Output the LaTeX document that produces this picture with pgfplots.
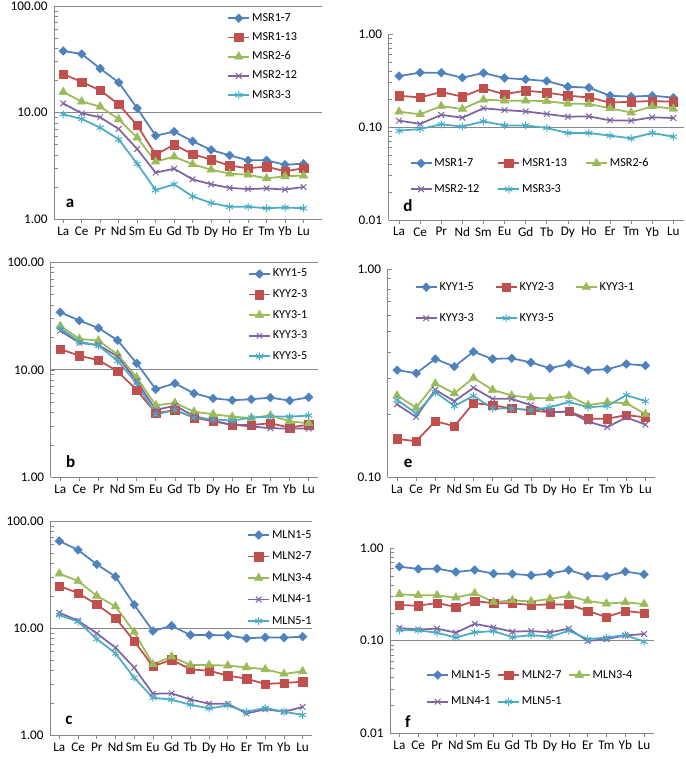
\documentclass[border=0pt]{standalone}
\usepackage{pgfplots}
\pgfplotsset{compat=1.18}
\usepackage{pgfplotstable}
\usepackage{fontspec}
\setmainfont{Carlito}
\definecolor{cA}{HTML}{4F81BD}
\definecolor{cB}{HTML}{C0504D}
\definecolor{cC}{HTML}{9BBB59}
\definecolor{cD}{HTML}{8064A2}
\definecolor{cE}{HTML}{4BACC6}
\definecolor{axgray}{HTML}{868686}

\pgfplotstableread{
x s1 s2 s3 s4 s5
0 37.8 23.0 15.6 12.2 9.65
1 35.5 19.4 12.7 9.86 8.72
2 25.9 16.2 11.4 9.04 7.23
3 19.2 11.97 8.66 7.03 5.62
4 11.0 7.61 5.83 4.56 3.32
5 6.09 4.04 3.47 2.74 1.88
6 6.63 5.01 3.87 2.98 2.13
7 5.39 4.07 3.28 2.37 1.64
8 4.47 3.63 2.92 2.13 1.42
9 3.98 3.19 2.68 1.97 1.31
10 3.57 3.01 2.62 1.92 1.31
11 3.57 3.12 2.42 1.95 1.27
12 3.25 2.82 2.53 1.90 1.29
13 3.32 3.01 2.57 2.01 1.27
}\tabA
\pgfplotstableread{
x s1 s2 s3 s4 s5
0 0.353 0.217 0.146 0.117 0.0913
1 0.384 0.208 0.137 0.108 0.0952
2 0.384 0.238 0.168 0.135 0.107
3 0.339 0.212 0.156 0.126 0.101
4 0.381 0.260 0.197 0.159 0.115
5 0.336 0.225 0.192 0.152 0.104
6 0.325 0.246 0.192 0.147 0.104
7 0.312 0.234 0.190 0.138 0.0976
8 0.271 0.217 0.178 0.129 0.0862
9 0.265 0.208 0.177 0.130 0.0862
10 0.217 0.183 0.159 0.118 0.0807
11 0.212 0.187 0.143 0.117 0.0756
12 0.217 0.190 0.167 0.127 0.0862
13 0.207 0.187 0.157 0.125 0.0787
}\tabD
\pgfplotstableread{
x s1 s2 s3 s4 s5
0 34.3 15.6 25.6 23.1 24.3
1 28.7 13.5 19.4 17.8 18.3
2 24.5 12.3 18.7 17.0 16.8
3 18.8 9.68 13.9 13.3 12.1
4 11.5 6.49 8.51 7.87 7.49
5 6.59 3.94 4.67 4.23 3.83
6 7.49 4.23 4.92 4.64 4.23
7 6.04 3.59 4.08 3.72 3.59
8 5.43 3.32 3.86 3.37 3.46
9 5.21 3.07 3.67 3.07 3.37
10 5.32 3.07 3.56 2.98 3.59
11 5.51 3.18 3.77 2.86 3.67
12 5.17 2.90 3.32 2.84 3.67
13 5.55 3.09 3.18 2.84 3.75
}\tabB
\pgfplotstableread{
x s1 s2 s3 s4 s5
0 0.327 0.153 0.247 0.224 0.235
1 0.316 0.149 0.216 0.195 0.203
2 0.370 0.186 0.282 0.263 0.256
3 0.340 0.176 0.253 0.232 0.220
4 0.401 0.227 0.300 0.269 0.246
5 0.370 0.222 0.263 0.238 0.214
6 0.373 0.214 0.247 0.238 0.214
7 0.356 0.210 0.241 0.222 0.210
8 0.334 0.205 0.239 0.205 0.217
9 0.350 0.207 0.246 0.207 0.230
10 0.327 0.191 0.222 0.185 0.217
11 0.330 0.191 0.229 0.174 0.220
12 0.350 0.199 0.227 0.194 0.248
13 0.344 0.194 0.201 0.179 0.232
}\tabE
\pgfplotstableread{
x s1 s2 s3 s4 s5
0 65.0 24.7 32.2 13.9 13.2
1 53.6 21.2 27.5 11.7 11.5
2 39.4 16.6 20.0 8.92 7.89
3 30.2 12.4 15.9 6.55 5.80
4 16.5 7.56 9.18 4.26 3.43
5 9.37 4.38 4.58 2.43 2.23
6 10.5 5.06 5.40 2.45 2.14
7 8.60 4.11 4.51 2.15 1.92
8 8.60 3.99 4.51 1.96 1.77
9 8.54 3.59 4.45 1.96 1.89
10 8.00 3.36 4.29 1.59 1.65
11 8.18 3.00 4.11 1.74 1.79
12 8.12 3.06 3.72 1.65 1.65
13 8.30 3.15 3.94 1.83 1.54
}\tabC
\pgfplotstableread{
x s1 s2 s3 s4 s5
0 0.633 0.243 0.318 0.137 0.130
1 0.597 0.239 0.310 0.132 0.129
2 0.602 0.256 0.310 0.135 0.122
3 0.554 0.231 0.292 0.122 0.108
4 0.582 0.269 0.326 0.152 0.123
5 0.532 0.254 0.262 0.139 0.127
6 0.528 0.254 0.273 0.125 0.109
7 0.510 0.243 0.266 0.127 0.115
8 0.532 0.247 0.283 0.123 0.110
9 0.582 0.247 0.305 0.135 0.128
10 0.502 0.210 0.269 0.099 0.104
11 0.498 0.180 0.252 0.104 0.108
12 0.559 0.210 0.260 0.114 0.115
13 0.523 0.199 0.249 0.118 0.0975
}\tabF

\pgfplotsset{
  scale only axis,
  xmin=-0.5, xmax=13.5,
  xtick={0,...,13},
  xticklabels={La,Ce,Pr,Nd,Sm,Eu,Gd,Tb,Dy,Ho,Er,Tm,Yb,Lu},
  axis lines=left,
  axis line style={-, draw=axgray, line width=0.8pt},
  xtick align=outside, ytick align=inside,
  major tick length=4pt, minor tick length=3.5pt,
  tick style={draw=axgray, line width=0.6pt},
  ticklabel style={font=\fontsize{13.2}{15}\selectfont, text=black},
  yticklabel style={xshift=-3pt},
  major grid style={draw=axgray, line width=0.8pt},
  legend style={draw=none, fill=none, font=\fontsize{12.2}{14}\selectfont,
    inner sep=0pt, outer sep=0pt, anchor=north west,
    nodes={inner sep=2pt, text height=9pt, text depth=3pt}},
  legend cell align=left,
  legend image code/.code={\draw[mark repeat=2,mark phase=2,#1] plot coordinates {(0pt,0pt) (10.5pt,0pt) (21pt,0pt)};},
  sA/.style={color=cA, line width=1.75pt, mark=square*, mark size=3.1pt, mark options={rotate=45, solid, line width=0.4pt}},
  sB/.style={color=cB, line width=1.75pt, mark=square*, mark size=4.2pt, mark options={solid, line width=0.4pt}},
  sC/.style={color=cC, line width=1.75pt, mark=triangle*, mark size=5pt, mark options={solid, line width=0.4pt}},
  sD/.style={color=cD, line width=1.75pt, mark=x, mark size=4pt, mark options={solid, line width=1pt}},
  sE/.style={color=cE, line width=1.75pt, mark=asterisk, mark size=4pt, mark options={solid, line width=1pt}},
}
\tikzset{plab/.style={font=\fontsize{17}{17}\selectfont\bfseries, anchor=center}}

\begin{document}
\begin{tikzpicture}
\useasboundingbox (0pt,0pt) rectangle (685pt,-759pt);

% panel a
\begin{semilogyaxis}[at={(54pt,-219.3pt)}, anchor=south west, width=268pt, height=213.3pt, xmax=14,
  ymin=1, ymax=100, ytick={1,10,100}, yticklabels={1.00,10.00,100.00}, ymajorgrids,
  minor ytick={2,3,4,5,6,7,8,9,20,30,40,50,60,70,80,90},
  legend style={at={(0.647,0.980)}, row sep=3.2pt}]
\addplot[sA] table[x=x,y=s1]{\tabA};
\addplot[sB] table[x=x,y=s2]{\tabA};
\addplot[sC] table[x=x,y=s3]{\tabA};
\addplot[sD] table[x=x,y=s4]{\tabA};
\addplot[sE] table[x=x,y=s5]{\tabA};
\legend{MSR1-7,MSR1-13,MSR2-6,MSR2-12,MSR3-3}
\node[plab] at (rel axis cs:0.06,0.073) {a};
\end{semilogyaxis}

% panel d
\begin{semilogyaxis}[at={(388.5pt,-220pt)}, anchor=south west, width=295.4pt, height=186pt,
  ymin=0.01, ymax=1, ytick={0.01,0.1,1}, yticklabels={0.01,0.10,1.00},
  minor ytick={0.02,0.03,0.04,0.05,0.06,0.07,0.08,0.09,0.2,0.3,0.4,0.5,0.6,0.7,0.8,0.9},
  extra y ticks={0.1}, extra y tick labels={}, extra y tick style={grid=major, major tick length=0pt},
  legend columns=3,
  legend style={at={(0.0718,0.348)}, row sep=10pt, /tikz/every even column/.append style={column sep=16pt}}]
\addplot[sA] table[x=x,y=s1]{\tabD};
\addplot[sB] table[x=x,y=s2]{\tabD};
\addplot[sC] table[x=x,y=s3]{\tabD};
\addplot[sD] table[x=x,y=s4]{\tabD};
\addplot[sE] table[x=x,y=s5]{\tabD};
\legend{MSR1-7,MSR1-13,MSR2-6,MSR2-12,MSR3-3}
\node[plab] at (rel axis cs:0.066,0.08) {d};
\end{semilogyaxis}

% panel b
\begin{semilogyaxis}[at={(50.7pt,-477.3pt)}, anchor=south west, width=267.5pt, height=215pt,
  ymin=1, ymax=100, ytick={1,10,100}, yticklabels={1.00,10.00,100.00}, ymajorgrids,
  minor ytick={2,3,4,5,6,7,8,9,20,30,40,50,60,70,80,90},
  legend style={at={(0.738,0.983)}, row sep=4.6pt}]
\addplot[sA] table[x=x,y=s1]{\tabB};
\addplot[sB] table[x=x,y=s2]{\tabB};
\addplot[sC] table[x=x,y=s3]{\tabB};
\addplot[sD] table[x=x,y=s4]{\tabB};
\addplot[sE] table[x=x,y=s5]{\tabB};
\legend{KYY1-5,KYY2-3,KYY3-1,KYY3-3,KYY3-5}
\node[plab] at (rel axis cs:0.075,0.073) {b};
\end{semilogyaxis}

% panel e
\begin{semilogyaxis}[at={(387.5pt,-477.3pt)}, anchor=south west, width=267.5pt, height=208.3pt,
  ymin=0.1, ymax=1, ytick={0.1,1}, yticklabels={0.10,1.00},
  minor ytick={0.2,0.3,0.4,0.5,0.6,0.7,0.8,0.9},
  legend columns=3,
  legend style={at={(0.102,0.951)}, row sep=15pt, /tikz/every even column/.append style={column sep=19pt}}]
\addplot[sA] table[x=x,y=s1]{\tabE};
\addplot[sB] table[x=x,y=s2]{\tabE};
\addplot[sC] table[x=x,y=s3]{\tabE};
\addplot[sD] table[x=x,y=s4]{\tabE};
\addplot[sE] table[x=x,y=s5]{\tabE};
\legend{KYY1-5,KYY2-3,KYY3-1,KYY3-3,KYY3-5}
\node[plab] at (rel axis cs:0.077,0.069) {e};
\end{semilogyaxis}

% panel c
\begin{semilogyaxis}[at={(50pt,-735pt)}, anchor=south west, width=262pt, height=214pt,
  ymin=1, ymax=100, ytick={1,10,100}, yticklabels={1.00,10.00,100.00}, ymajorgrids,
  minor ytick={2,3,4,5,6,7,8,9,20,30,40,50,60,70,80,90},
  legend style={at={(0.753,0.972)}, row sep=5.5pt}]
\addplot[sA] table[x=x,y=s1]{\tabC};
\addplot[sB] table[x=x,y=s2]{\tabC};
\addplot[sC] table[x=x,y=s3]{\tabC};
\addplot[sD] table[x=x,y=s4]{\tabC};
\addplot[sE] table[x=x,y=s5]{\tabC};
\legend{MLN1-5,MLN2-7,MLN3-4,MLN4-1,MLN5-1}
\node[plab] at (rel axis cs:0.0725,0.07) {c};
\end{semilogyaxis}

% panel f
\begin{semilogyaxis}[at={(390pt,-733pt)}, anchor=south west, width=263.5pt, height=184.7pt,
  ymin=0.01, ymax=1, ytick={0.01,0.1,1}, yticklabels={0.01,0.10,1.00},
  minor ytick={0.02,0.03,0.04,0.05,0.06,0.07,0.08,0.09,0.2,0.3,0.4,0.5,0.6,0.7,0.8,0.9},
  extra y ticks={0.1}, extra y tick labels={}, extra y tick style={grid=major, major tick length=0pt},
  legend columns=3,
  legend style={at={(0.138,0.357)}, row sep=10.7pt, /tikz/every even column/.append style={column sep=4.5pt}}]
\addplot[sA] table[x=x,y=s1]{\tabF};
\addplot[sB] table[x=x,y=s2]{\tabF};
\addplot[sC] table[x=x,y=s3]{\tabF};
\addplot[sD] table[x=x,y=s4]{\tabF};
\addplot[sE] table[x=x,y=s5]{\tabF};
\legend{MLN1-5,MLN2-7,MLN3-4,MLN4-1,MLN5-1}
\node[plab] at (rel axis cs:0.068,0.06) {f};
\end{semilogyaxis}
\end{tikzpicture}
\end{document}
